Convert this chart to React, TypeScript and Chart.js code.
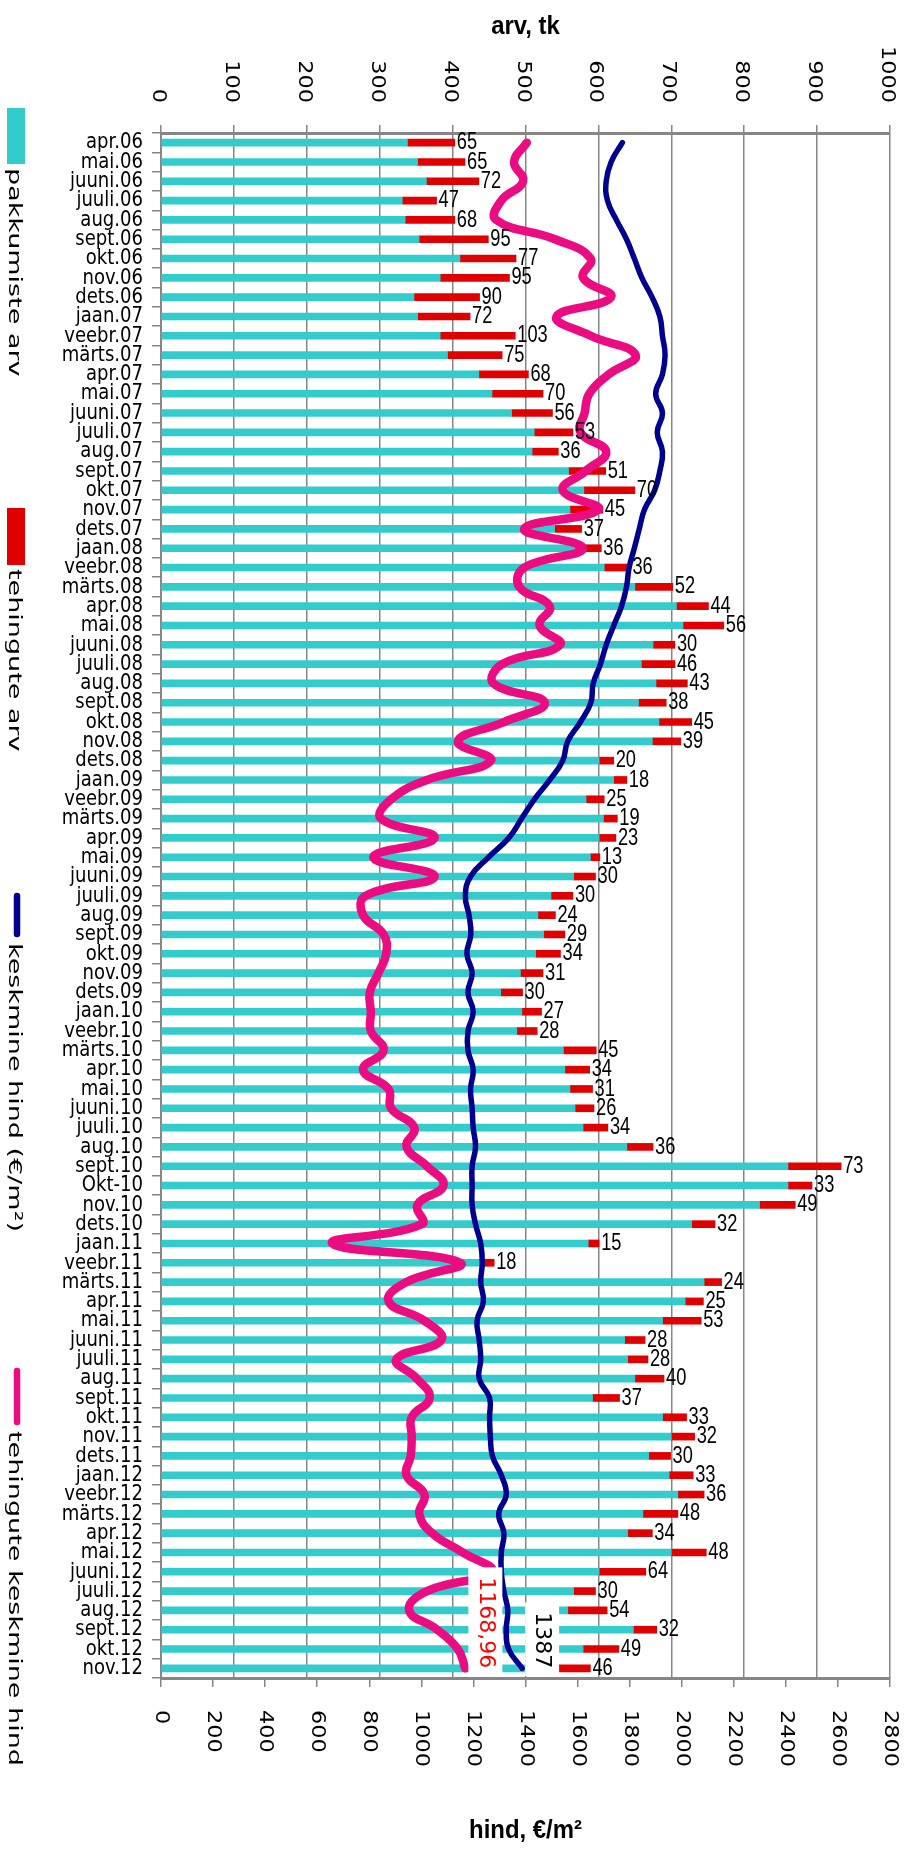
import React, { useEffect, useRef } from 'react';
import { Chart, registerables } from 'chart.js';

Chart.register(...registerables);

// ---------------- data ----------------
const categories = [
  'apr.06', 'mai.06', 'juuni.06', 'juuli.06', 'aug.06', 'sept.06', 'okt.06', 'nov.06', 'dets.06',
  'jaan.07', 'veebr.07', 'märts.07', 'apr.07', 'mai.07', 'juuni.07', 'juuli.07', 'aug.07', 'sept.07', 'okt.07', 'nov.07', 'dets.07',
  'jaan.08', 'veebr.08', 'märts.08', 'apr.08', 'mai.08', 'juuni.08', 'juuli.08', 'aug.08', 'sept.08', 'okt.08', 'nov.08', 'dets.08',
  'jaan.09', 'veebr.09', 'märts.09', 'apr.09', 'mai.09', 'juuni.09', 'juuli.09', 'aug.09', 'sept.09', 'okt.09', 'nov.09', 'dets.09',
  'jaan.10', 'veebr.10', 'märts.10', 'apr.10', 'mai.10', 'juuni.10', 'juuli.10', 'aug.10', 'sept.10', 'Okt-10', 'nov.10', 'dets.10',
  'jaan.11', 'veebr.11', 'märts.11', 'apr.11', 'mai.11', 'juuni.11', 'juuli.11', 'aug.11', 'sept.11', 'okt.11', 'nov.11', 'dets.11',
  'jaan.12', 'veebr.12', 'märts.12', 'apr.12', 'mai.12', 'juuni.12', 'juuli.12', 'aug.12', 'sept.12', 'okt.12', 'nov.12',
];

// pakkumiste arv (offers count)
const offersCount = [
  338, 352, 364, 331, 335, 354, 410, 383, 347,
  352, 383, 393, 436, 454, 481, 512, 509, 559, 580, 561, 540,
  568, 608, 650, 707, 716, 675, 659, 679, 655, 683, 674, 601,
  621, 583, 607, 601, 589, 566, 535, 517, 525, 514, 493, 466,
  495, 488, 552, 554, 561, 568, 579, 639, 860, 860, 821, 728,
  586, 439, 745, 719, 688, 636, 640, 650, 592, 688, 700, 669,
  697, 709, 661, 640, 700, 601, 566, 558, 648, 579, 543,
];

// tehingute arv (deals count)
const dealsCount = [
  65, 65, 72, 47, 68, 95, 77, 95, 90,
  72, 103, 75, 68, 70, 56, 53, 36, 51, 70, 45, 37,
  36, 36, 52, 44, 56, 30, 46, 43, 38, 45, 39, 20,
  18, 25, 19, 23, 13, 30, 30, 24, 29, 34, 31, 30,
  27, 28, 45, 34, 31, 26, 34, 36, 73, 33, 49, 32,
  15, 18, 24, 25, 53, 28, 28, 40, 37, 33, 32, 30,
  33, 36, 48, 34, 48, 64, 30, 54, 32, 49, 46,
];

// keskmine hind (€/m²)
const avgPrice = [
  1772, 1729, 1710, 1715, 1749, 1788, 1818, 1847, 1886,
  1916, 1926, 1936, 1926, 1900, 1926, 1906, 1926, 1916, 1896, 1857, 1837,
  1818, 1798, 1788, 1769, 1739, 1710, 1688, 1660, 1651, 1611, 1562, 1543,
  1493, 1434, 1385, 1336, 1258, 1189, 1169, 1183, 1190, 1175, 1195, 1179,
  1199, 1179, 1179, 1199, 1189, 1195, 1199, 1208, 1195, 1195, 1195, 1208,
  1228, 1234, 1228, 1238, 1214, 1222, 1228, 1222, 1262, 1262, 1265, 1273,
  1307, 1326, 1297, 1317, 1307, 1307, 1317, 1332, 1326, 1335, 1387,
];

// tehingute keskmine hind
const dealPrice = [
  1405, 1356, 1391, 1307, 1287, 1513, 1650, 1621, 1729,
  1519, 1650, 1823, 1719, 1645, 1627, 1611, 1710, 1631, 1543, 1680, 1395,
  1621, 1395, 1376, 1493, 1454, 1533, 1310, 1277, 1474, 1317, 1140, 1267,
  1022, 884, 845, 1051, 815, 1051, 786, 776, 855, 865, 835, 802,
  806, 806, 855, 776, 874, 884, 973, 943, 1022, 1085, 985, 1002,
  658, 1149, 943, 874, 1012, 1077, 904, 983, 1032, 963, 963, 959,
  943, 1012, 992, 1041, 1159, 1270, 1022, 953, 1061, 1140, 1168.96,
];

const countAxisMax = 1000;
const countAxisStep = 100;
const priceAxisMax = 2800;
const priceAxisStep = 200;

const seriesNames = ['pakkumiste arv', 'tehingute arv', 'keskmine hind (€/m²)', 'tehingute keskmine hind'];
const countAxisTitle = 'arv, tk';
const priceAxisTitle = 'hind, €/m²';

// ---------------- styling ----------------
const W = 909;
const H = 1849;
const AREA = { left: 161, top: 133, right: 890, bottom: 1678 };
const GRAY = '#868686';
const CYAN = '#33CCCC';
const RED = '#E00000';
const NAVY = '#000090';
const PINK = '#EC0C82';

type TextOpts = {
  font: string;
  color?: string;
  align?: CanvasTextAlign;
  baseline?: CanvasTextBaseline;
  rot?: number;
  sx?: number;
};

function drawText(ctx: CanvasRenderingContext2D, s: string, x: number, y: number, o: TextOpts) {
  ctx.save();
  ctx.translate(x, y);
  if (o.rot) ctx.rotate(o.rot);
  ctx.scale(o.sx ?? 1, 1);
  ctx.font = o.font;
  ctx.fillStyle = o.color ?? '#000';
  ctx.textAlign = o.align ?? 'left';
  ctx.textBaseline = o.baseline ?? 'middle';
  ctx.fillText(s, 0, 0);
  ctx.restore();
}

const fmt = (v: number) => String(v).replace('.', ',');

const legendLayout = [
  { ds: 0, marker: 'box', m0: 108, m1: 164, t0: 168 },
  { ds: 1, marker: 'box', m0: 508, m1: 565, t0: 569 },
  { ds: 2, marker: 'line', m0: 893, m1: 937, t0: 943 },
  { ds: 3, marker: 'line', m0: 1368, m1: 1425, t0: 1431 },
];

const textPlugin = {
  id: 'customText',
  afterDatasetsDraw(chart: any) {
    const ctx: CanvasRenderingContext2D = chart.ctx;
    const area = chart.chartArea;
    // end-of-line labels with white boxes
    const endLabel = (dsIndex: number, color: string) => {
      const meta = chart.getDatasetMeta(dsIndex);
      const data = chart.data.datasets[dsIndex].data as number[];
      const last = data.length - 1;
      const pt = meta.data[last];
      const text = fmt(data[last]);
      ctx.save();
      ctx.font = '22px "DejaVu Sans"';
      const w = ctx.measureText(text).width;
      ctx.restore();
      ctx.save();
      ctx.fillStyle = '#ffffff';
      const top = pt.y - w - 10;
      ctx.fillRect(pt.x + 3, top, 34, area.bottom - 2 - top);
      ctx.restore();
      drawText(ctx, text, pt.x + 20, pt.y, {
        font: '22px "DejaVu Sans"', color, align: 'right', baseline: 'middle', rot: Math.PI / 2,
      });
    };
    endLabel(3, '#FF0000');
    endLabel(2, '#000000');

    // values of deals at bar ends
    const meta = chart.getDatasetMeta(1);
    const vals = chart.data.datasets[1].data as number[];
    meta.data.forEach((bar: any, i: number) => {
      drawText(ctx, String(vals[i]), bar.x + 2, bar.y, {
        font: '24px "Liberation Sans"', align: 'left', baseline: 'middle', sx: 0.76,
      });
    });
  },
  afterDraw(chart: any) {
    const ctx: CanvasRenderingContext2D = chart.ctx;
    const area = chart.chartArea;
    const sx = chart.scales.x;
    const sx2 = chart.scales.x2;
    const sy = chart.scales.y;

    // top tick labels
    sx.ticks.forEach((t: any) => {
      const x = sx.getPixelForValue(t.value);
      drawText(ctx, String(t.value), x - 3, area.top - 30, {
        font: '19px "DejaVu Sans"', align: 'right', baseline: 'middle', rot: Math.PI / 2, sx: 1.18,
      });
    });
    // bottom tick labels
    sx2.ticks.forEach((t: any) => {
      const x = sx2.getPixelForValue(t.value);
      drawText(ctx, String(t.value), x, area.bottom + 32, {
        font: '19px "DejaVu Sans"', align: 'left', baseline: 'middle', rot: Math.PI / 2, sx: 1.18,
      });
    });
    // category labels
    (chart.data.labels as string[]).forEach((lab, i) => {
      const y = sy.getPixelForTick(i);
      drawText(ctx, lab, area.left - 18, y, {
        font: '22px "DejaVu Sans"', align: 'right', baseline: 'middle', sx: 0.82,
      });
    });
    // axis titles
    const cx = (area.left + area.right) / 2;
    drawText(ctx, countAxisTitle, cx, 27, { font: 'bold 26px "Liberation Sans"', align: 'center', baseline: 'middle', sx: 0.92 });
    drawText(ctx, priceAxisTitle, cx, 1831, { font: 'bold 26px "Liberation Sans"', align: 'center', baseline: 'middle', sx: 0.92 });

    // legend
    legendLayout.forEach((l) => {
      const ds: any = chart.data.datasets[l.ds];
      ctx.save();
      if (l.marker === 'box') {
        ctx.fillStyle = ds.backgroundColor;
        ctx.fillRect(7, l.m0, 18, l.m1 - l.m0);
      } else {
        ctx.strokeStyle = ds.borderColor;
        ctx.lineWidth = 6.5;
        ctx.lineCap = 'round';
        ctx.beginPath();
        ctx.moveTo(17, l.m0 + 3);
        ctx.lineTo(17, l.m1 - 3);
        ctx.stroke();
      }
      ctx.restore();
      drawText(ctx, ds.label, 14, l.t0, {
        font: '18px "DejaVu Sans"', align: 'left', baseline: 'middle', rot: Math.PI / 2, sx: 1.5,
      });
    });
  },
};

export default function App() {
  const ref = useRef<HTMLCanvasElement | null>(null);

  useEffect(() => {
    if (!ref.current) return;
    const chart = new Chart(ref.current, {
      type: 'bar',
      data: {
        labels: categories,
        datasets: [
          {
            type: 'bar', label: seriesNames[0], data: offersCount, backgroundColor: CYAN,
            xAxisID: 'x', yAxisID: 'y', barThickness: 7, order: 2, indexAxis: 'y',
          } as any,
          {
            type: 'bar', label: seriesNames[1], data: dealsCount, backgroundColor: RED,
            xAxisID: 'x', yAxisID: 'y', barThickness: 7, order: 2, indexAxis: 'y',
          } as any,
          {
            type: 'line', label: seriesNames[2], data: avgPrice, borderColor: NAVY, backgroundColor: NAVY,
            borderWidth: 5.5, pointRadius: 0, tension: 0.45, fill: false,
            xAxisID: 'x2', yAxisID: 'y', order: 1, indexAxis: 'y', borderCapStyle: 'round',
          } as any,
          {
            type: 'line', label: seriesNames[3], data: dealPrice, borderColor: PINK, backgroundColor: PINK,
            borderWidth: 8.5, pointRadius: 0, tension: 0.45, fill: false,
            xAxisID: 'x2', yAxisID: 'y', order: 0, indexAxis: 'y', borderCapStyle: 'round',
          } as any,
        ],
      },
      options: {
        indexAxis: 'y',
        responsive: false,
        animation: false,
        devicePixelRatio: 1,
        layout: {
          padding: { left: AREA.left, top: AREA.top, right: W - AREA.right, bottom: H - AREA.bottom },
        },
        plugins: {
          legend: { display: false },
          tooltip: { enabled: false },
          title: { display: false },
        },
        scales: {
          x: {
            type: 'linear', axis: 'x', position: 'top', min: 0, max: countAxisMax, stacked: true,
            ticks: { display: false, stepSize: countAxisStep },
            grid: { color: GRAY, lineWidth: 1.5, tickLength: 8, drawTicks: true, tickColor: GRAY, tickWidth: 1.5 },
            border: { display: true, color: GRAY, width: 3 },
            afterFit: (s: any) => { s.height = 0; },
          },
          x2: {
            type: 'linear', axis: 'x', position: 'bottom', min: 0, max: priceAxisMax,
            ticks: { display: false, stepSize: priceAxisStep },
            grid: { drawOnChartArea: false, color: GRAY, lineWidth: 1.5, tickLength: 9, tickColor: GRAY, tickWidth: 1.5 },
            border: { display: true, color: GRAY, width: 3 },
            afterFit: (s: any) => { s.height = 0; },
          },
          y: {
            type: 'category', position: 'left', stacked: true, offset: true,
            ticks: { display: false },
            grid: { drawOnChartArea: false, offset: true, color: GRAY, lineWidth: 1.5, tickLength: 9, tickColor: GRAY },
            border: { display: true, color: GRAY, width: 2 },
            afterFit: (s: any) => { s.width = 0; },
          },
        },
      } as any,
      plugins: [textPlugin],
    });
    return () => chart.destroy();
  }, []);

  return (
    <div style={{ position: 'absolute', left: 0, top: 0, width: W, height: H, background: '#fff' }}>
      <canvas ref={ref} width={W} height={H} style={{ display: 'block' }} />
    </div>
  );
}
